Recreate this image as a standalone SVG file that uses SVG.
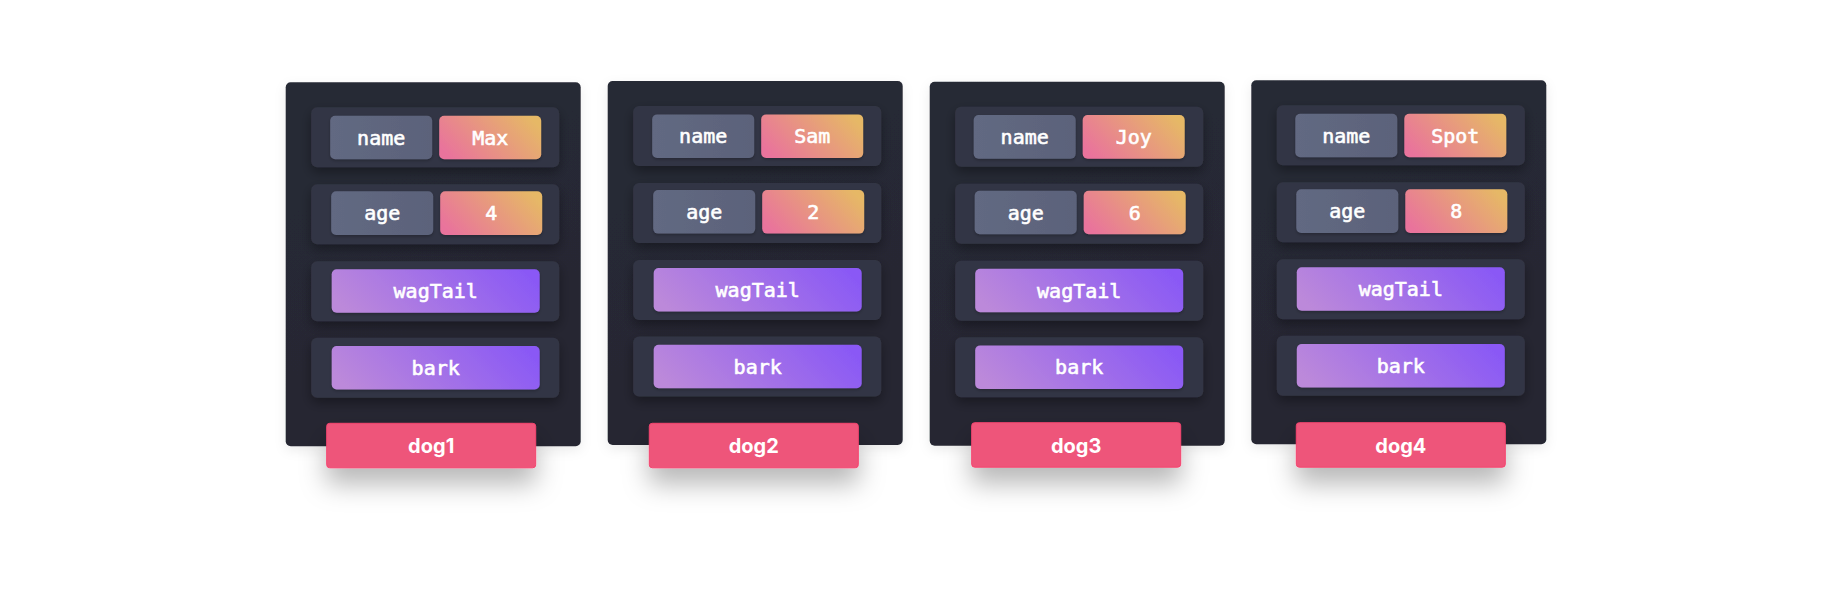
<svg xmlns="http://www.w3.org/2000/svg" width="1839" height="600" viewBox="0 0 1839 600">
  <defs>
    <linearGradient id="gVal" x1="0" y1="0.7" x2="1" y2="0.3">
      <stop offset="0" stop-color="#E9739C"/>
      <stop offset="1" stop-color="#E6B866"/>
    </linearGradient>
    <linearGradient id="gMeth" x1="0" y1="0.6" x2="1" y2="0.4">
      <stop offset="0" stop-color="#BC89DA"/>
      <stop offset="1" stop-color="#8A59F5"/>
    </linearGradient>
    <linearGradient id="gKey" x1="0" y1="0" x2="1" y2="0">
      <stop offset="0" stop-color="#626982"/>
      <stop offset="1" stop-color="#5B627A"/>
    </linearGradient>
    <linearGradient id="gCard" x1="0" y1="0" x2="0.3" y2="1">
      <stop offset="0" stop-color="#282A36"/>
      <stop offset="1" stop-color="#252732"/>
    </linearGradient>
    <filter id="fRow" x="-20%" y="-40%" width="140%" height="190%">
      <feDropShadow dx="0" dy="5" stdDeviation="6" flood-color="#000" flood-opacity="0.35"/>
    </filter>
    <filter id="fBox" x="-10%" y="-20%" width="120%" height="150%">
      <feDropShadow dx="0" dy="1.5" stdDeviation="1.5" flood-color="#000" flood-opacity="0.25"/>
    </filter>
    <filter id="fLabel" x="-40%" y="-60%" width="180%" height="320%">
      <feDropShadow dx="0" dy="16" stdDeviation="13" flood-color="#000" flood-opacity="0.28"/>
    </filter>
    <filter id="fCard" x="-20%" y="-20%" width="140%" height="140%">
      <feDropShadow dx="0" dy="4" stdDeviation="6" flood-color="#000" flood-opacity="0.08"/>
    </filter>
  </defs>
  <style>
    .card { fill: url(#gCard); filter: url(#fCard); }
    .row { fill: #333644; filter: url(#fRow); }
    .key { fill: url(#gKey); filter: url(#fBox); }
    .val { fill: url(#gVal); filter: url(#fBox); }
    .meth { fill: url(#gMeth); filter: url(#fBox); }
    .label { fill: #EE557A; stroke: #F5446F; stroke-width: 1; filter: url(#fLabel); }
    .mono { font-family: "DejaVu Sans Mono", "Liberation Mono", monospace; font-size: 20px; font-weight: 400; fill: #FFFFFF; stroke: #FFFFFF; stroke-width: 0.6; text-anchor: middle; }
    .ltxt { font-family: Inter, "Noto Sans", "Liberation Sans", sans-serif; font-size: 20px; font-weight: 700; fill: #FFFFFF; text-anchor: middle; }
  </style>
  <rect width="1839" height="600" fill="#FFFFFF"/>

  <g id="connectors"/>

  <g id="dog1" transform="translate(285.7,82.3)">
    <rect class="card" x="0" y="0" width="295" height="364" rx="5"/>
    <rect class="row" x="25.5" y="25" width="248" height="60" rx="6"/>
    <rect class="row" x="25.5" y="102" width="248" height="60" rx="6"/>
    <rect class="row" x="25.5" y="179" width="248" height="60" rx="6"/>
    <rect class="row" x="25.5" y="255.5" width="248" height="60" rx="6"/>
    <rect class="key" x="44.5" y="33.4" width="102" height="43.6" rx="5"/>
    <rect class="val" x="153.5" y="33.4" width="102" height="43.6" rx="5"/>
    <rect class="key" x="45.5" y="109" width="102" height="43.6" rx="5"/>
    <rect class="val" x="154.5" y="109" width="102" height="43.6" rx="5"/>
    <rect class="meth" x="46" y="187" width="208" height="43.5" rx="5"/>
    <rect class="meth" x="46" y="263.7" width="208" height="43.5" rx="5"/>
    <text class="mono" x="95.5" y="62.4">name</text>
    <text class="mono" x="204.5" y="62.4">Max</text>
    <text class="mono" x="96.5" y="138">age</text>
    <text class="mono" x="205.5" y="138">4</text>
    <text class="mono" x="150" y="216">wagTail</text>
    <text class="mono" x="150" y="292.7">bark</text>
    <rect class="label" x="41" y="341" width="209" height="44.5" rx="3"/>
    <text class="ltxt" x="145.5" y="371">dog1</text>
  </g>

  <g id="dog2" transform="translate(607.7,81)">
    <rect class="card" x="0" y="0" width="295" height="364" rx="5"/>
    <rect class="row" x="25.5" y="25" width="248" height="60" rx="6"/>
    <rect class="row" x="25.5" y="102" width="248" height="60" rx="6"/>
    <rect class="row" x="25.5" y="179" width="248" height="60" rx="6"/>
    <rect class="row" x="25.5" y="255.5" width="248" height="60" rx="6"/>
    <rect class="key" x="44.5" y="33.4" width="102" height="43.6" rx="5"/>
    <rect class="val" x="153.5" y="33.4" width="102" height="43.6" rx="5"/>
    <rect class="key" x="45.5" y="109" width="102" height="43.6" rx="5"/>
    <rect class="val" x="154.5" y="109" width="102" height="43.6" rx="5"/>
    <rect class="meth" x="46" y="187" width="208" height="43.5" rx="5"/>
    <rect class="meth" x="46" y="263.7" width="208" height="43.5" rx="5"/>
    <text class="mono" x="95.5" y="62.4">name</text>
    <text class="mono" x="204.5" y="62.4">Sam</text>
    <text class="mono" x="96.5" y="138">age</text>
    <text class="mono" x="205.5" y="138">2</text>
    <text class="mono" x="150" y="216">wagTail</text>
    <text class="mono" x="150" y="292.7">bark</text>
    <rect class="label" x="41.6" y="342.3" width="209" height="44.5" rx="3"/>
    <text class="ltxt" x="146.1" y="372.3">dog2</text>
  </g>

  <g id="dog3" transform="translate(929.7,81.7)">
    <rect class="card" x="0" y="0" width="295" height="364" rx="5"/>
    <rect class="row" x="25.5" y="25" width="248" height="60" rx="6"/>
    <rect class="row" x="25.5" y="102" width="248" height="60" rx="6"/>
    <rect class="row" x="25.5" y="179" width="248" height="60" rx="6"/>
    <rect class="row" x="25.5" y="255.5" width="248" height="60" rx="6"/>
    <rect class="key" x="44" y="33.4" width="102" height="43.6" rx="5"/>
    <rect class="val" x="153" y="33.4" width="102" height="43.6" rx="5"/>
    <rect class="key" x="45" y="109" width="102" height="43.6" rx="5"/>
    <rect class="val" x="154" y="109" width="102" height="43.6" rx="5"/>
    <rect class="meth" x="45.5" y="187" width="208" height="43.5" rx="5"/>
    <rect class="meth" x="45.5" y="263.7" width="208" height="43.5" rx="5"/>
    <text class="mono" x="95" y="62.4">name</text>
    <text class="mono" x="204" y="62.4">Joy</text>
    <text class="mono" x="96" y="138">age</text>
    <text class="mono" x="205" y="138">6</text>
    <text class="mono" x="149.5" y="216">wagTail</text>
    <text class="mono" x="149.5" y="292.7">bark</text>
    <rect class="label" x="42" y="341" width="209" height="44.5" rx="3"/>
    <text class="ltxt" x="146.5" y="371">dog3</text>
  </g>

  <g id="dog4" transform="translate(1251.3,80.3)">
    <rect class="card" x="0" y="0" width="295" height="364" rx="5"/>
    <rect class="row" x="25.5" y="25" width="248" height="60" rx="6"/>
    <rect class="row" x="25.5" y="102" width="248" height="60" rx="6"/>
    <rect class="row" x="25.5" y="179" width="248" height="60" rx="6"/>
    <rect class="row" x="25.5" y="255.5" width="248" height="60" rx="6"/>
    <rect class="key" x="44" y="33.4" width="102" height="43.6" rx="5"/>
    <rect class="val" x="153" y="33.4" width="102" height="43.6" rx="5"/>
    <rect class="key" x="45" y="109" width="102" height="43.6" rx="5"/>
    <rect class="val" x="154" y="109" width="102" height="43.6" rx="5"/>
    <rect class="meth" x="45.5" y="187" width="208" height="43.5" rx="5"/>
    <rect class="meth" x="45.5" y="263.7" width="208" height="43.5" rx="5"/>
    <text class="mono" x="95" y="62.4">name</text>
    <text class="mono" x="204" y="62.4">Spot</text>
    <text class="mono" x="96" y="138">age</text>
    <text class="mono" x="205" y="138">8</text>
    <text class="mono" x="149.5" y="216">wagTail</text>
    <text class="mono" x="149.5" y="292.7">bark</text>
    <rect class="label" x="45" y="342.4" width="209" height="44.5" rx="3"/>
    <text class="ltxt" x="149.5" y="372.4">dog4</text>
  </g>
</svg>
